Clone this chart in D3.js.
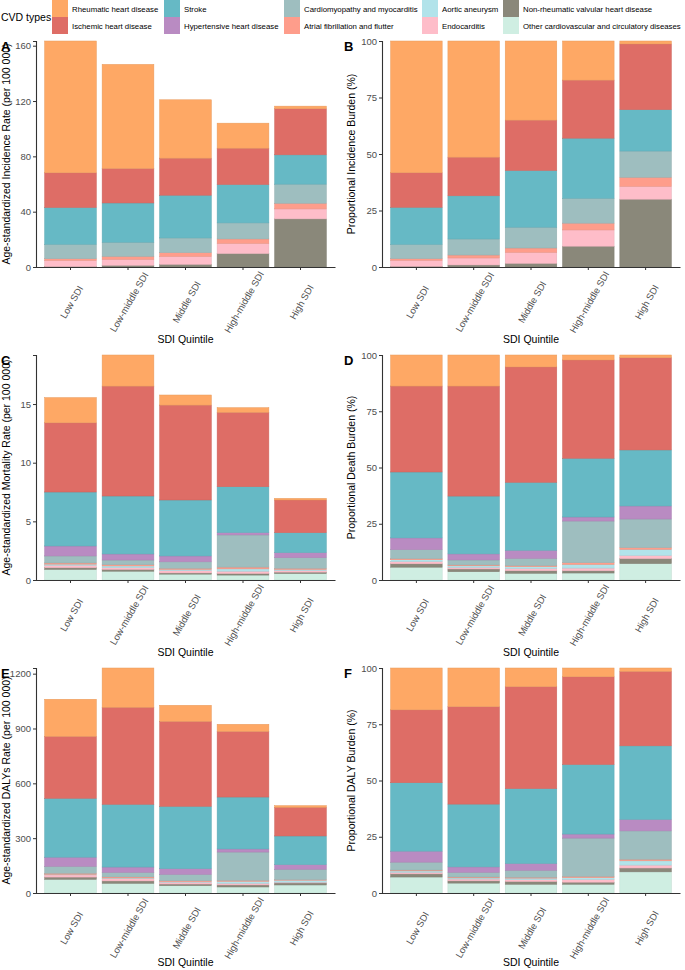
<!DOCTYPE html>
<html><head><meta charset="utf-8">
<script src="https://cdn.jsdelivr.net/npm/d3@7"></script>
<style>body{margin:0;background:#fff;font-family:"Liberation Sans",Arial,sans-serif;}</style>
</head><body><svg id="c" width="685" height="970"></svg>
<script>
const categories = ["Low SDI","Low-middle SDI","Middle SDI","High-middle SDI","High SDI"];
const cvdTypes = ["Rheumatic heart disease","Ischemic heart disease","Stroke","Hypertensive heart disease",
  "Cardiomyopathy and myocarditis","Atrial fibrillation and flutter","Aortic aneurysm","Endocarditis",
  "Non-rheumatic valvular heart disease","Other cardiovascular and circulatory diseases"];
const typeColors = ["#FEA865","#DE6D66","#66B9C5","#B98BC2","#9EBEBF","#FE9D8B","#B2E3EA","#FEBDC9","#8A887A","#CFEEE2"];

// rows follow cvdTypes order, columns follow categories
const incidenceRate = [
  [95.3,75.3,42.2,18.1,1.9],[25.1,24.9,26.8,26.3,33.3],[26.6,28.4,30.9,27.7,21.2],[0,0,0,0,0],
  [10.4,10.2,10.6,11.6,13.8],[1.2,2.1,2.7,3.2,4.1],[0,0,0,0,0],[4.5,4.4,5.8,7.4,7.2],
  [0.3,1.2,1.9,9.7,34.8],[0,0,0,0,0]];
const incidenceShare = [
  [58.3,51.4,35.0,17.3,1.3],[15.3,17.1,22.3,25.7,29.1],[16.4,19.1,25.1,26.6,18.3],[0,0,0,0,0],
  [6.3,7.1,9.2,11.0,11.6],[0.7,1.3,1.9,3.0,4.0],[0,0,0,0,0],[2.7,3.1,4.9,7.2,5.7],
  [0.3,0.9,1.6,9.2,30.0],[0,0,0,0,0]];
const deathRate = [
  [2.15,2.65,0.86,0.4,0.14],[5.9,9.37,8.09,6.34,2.79],[4.6,4.94,4.77,3.91,1.7],[0.85,0.52,0.5,0.2,0.43],
  [0.6,0.4,0.55,2.74,0.9],[0.1,0.1,0.1,0.15,0.1],[0.1,0.15,0.1,0.2,0.1],[0.2,0.15,0.2,0.2,0.13],
  [0.15,0.15,0.1,0.13,0.12],[0.9,0.75,0.5,0.42,0.55]];
const deathShare = [
  [13.8,13.8,5.3,2.2,1.2],[38.2,48.9,51.3,43.7,41.0],[29.3,25.7,30.2,26.1,24.9],[5.2,2.7,3.6,1.8,5.8],
  [4.0,2.2,3.2,18.5,12.7],[0.5,0.4,0.5,0.8,0.8],[0.8,0.7,0.8,1.6,2.7],[1.0,0.7,1.0,1.2,1.4],
  [1.5,1.2,1.1,1.0,2.2],[5.7,3.7,3.0,3.1,7.3]];
const dalyRate = [
  [203,215,88,39,9],[339,531,465,359,157],[322,343,341,284,157],[50,29,31,17,25],
  [38,25,35,155,57],[6,6,5,5,3],[3,4,3,11,11],[12,12,10,9,4],
  [12,13,9,11,11],[75,53,40,33,44]];
const dalyShare = [
  [18.6,17.2,8.3,3.9,1.5],[32.4,43.3,45.3,39.0,33.1],[30.4,27.9,33.3,30.9,32.7],[4.9,2.4,3.0,1.8,5.1],
  [3.5,2.1,3.1,17.0,12.6],[0.4,0.4,0.4,0.6,0.7],[0.6,0.5,0.7,0.8,1.9],[0.7,0.8,0.8,1.2,1.3],
  [1.4,1.0,1.2,0.9,1.7],[7.1,4.4,3.9,3.9,9.4]];

const ticksRate1 = [0,40,80,120,160];
const ticksRate2 = [0,5,10,15];
const ticksRate3 = [0,300,600,900,1200];
const ticksShare = [0,25,50,75,100];

const panels = [
  {letter:"A", data:incidenceRate, ticks:ticksRate1, title:"Age-standardized Incidence Rate (per 100 000)", share:false, col:0, row:0},
  {letter:"B", data:incidenceShare, ticks:ticksShare, title:"Proportional Incidence Burden (%)", share:true, col:1, row:0},
  {letter:"C", data:deathRate, ticks:ticksRate2, title:"Age-standardized Mortality Rate (per 100 000)", share:false, col:0, row:1},
  {letter:"D", data:deathShare, ticks:ticksShare, title:"Proportional Death Burden (%)", share:true, col:1, row:1},
  {letter:"E", data:dalyRate, ticks:ticksRate3, title:"Age-standardized DALYs Rate (per 100 000)", share:false, col:0, row:2},
  {letter:"F", data:dalyShare, ticks:ticksShare, title:"Proportional DALY Burden (%)", share:true, col:1, row:2}
];

const svg = d3.select("#c");
const rowsY = [[41,267],[355,580],[668,893]];
const colsX = [[36,335],[382,680]];
const stackKeys = cvdTypes.map((d,i)=>i).reverse(); // bottom: last type
const color = d3.scaleOrdinal().domain(cvdTypes.map((d,i)=>i)).range(typeColors);
const axisCol = "#333", tickCol = "#4D4D4D";

panels.forEach(p => {
  const [top,bottom] = rowsY[p.row];
  const [x0,x1] = colsX[p.col];
  const table = categories.map((c,ci)=>{ const o={cat:c}; cvdTypes.forEach((t,ti)=>o[ti]=p.data[ti][ci]); return o; });
  const series = d3.stack().keys(stackKeys)(table);
  const maxV = p.share ? 100 : d3.max(table, r => d3.sum(cvdTypes, (t,ti)=>r[ti]));
  const x = d3.scaleBand().domain(categories).range([x0,x1]).paddingInner(0.1).paddingOuter(0.15);
  const y = d3.scaleLinear().domain([0,maxV]).range([bottom,top]);
  const g = svg.append("g");
  g.selectAll("g.s").data(series).join("g")
    .attr("fill", d=>color(d.key)).attr("stroke", d=>d3.color(color(d.key)).darker(0.25)).attr("stroke-width",0.5)
    .selectAll("rect").data(d=>d.filter(v=>v[1]-v[0]>0)).join("rect")
    .attr("x", d=>x(d.data.cat)).attr("width", x.bandwidth())
    .attr("y", d=>y(d[1])).attr("height", d=>y(d[0])-y(d[1]));
  const ya = g.append("g").attr("transform",`translate(${x0},0)`)
    .call(d3.axisLeft(y).tickValues(p.ticks).tickSize(3).tickPadding(2).tickFormat(d3.format("d")));
  ya.select(".domain").attr("stroke",axisCol).attr("stroke-width",1.1);
  ya.selectAll(".tick line").attr("stroke",axisCol);
  ya.selectAll(".tick text").attr("fill",tickCol).attr("font-size",9.5).attr("font-family","Liberation Sans, Arial, sans-serif");
  const xa = g.append("g").attr("transform",`translate(0,${bottom})`)
    .call(d3.axisBottom(x).tickSize(3).tickSizeOuter(0));
  xa.select(".domain").attr("stroke",axisCol).attr("stroke-width",1.1);
  xa.selectAll(".tick line").attr("stroke",axisCol);
  xa.selectAll(".tick text").remove();
  categories.forEach(c=>{
    g.append("text").attr("transform",`translate(${x(c)+x.bandwidth()/2+1},${bottom+35}) rotate(-60)`)
      .attr("text-anchor","middle").attr("dominant-baseline","central")
      .attr("font-size",9.5).attr("fill",tickCol).text(c);
  });
  g.append("text").attr("x",(x0+x1)/2).attr("y",Math.min(bottom+76,966)).attr("text-anchor","middle")
    .attr("font-size",10.5).attr("fill","#000").text("SDI Quintile");
  g.append("text").attr("transform",`translate(${p.col===0?10:355},${(top+bottom)/2}) rotate(-90)`)
    .attr("text-anchor","middle").attr("font-size",10.5).attr("fill","#000").text(p.title);
  g.append("text").attr("x",p.col===0?1:344).attr("y",top+10).attr("font-size",13).attr("font-weight","bold")
    .attr("fill","#000").text(p.letter);
});

const lg = svg.append("g");
lg.append("text").attr("x",1).attr("y",21).attr("font-size",10.5).text("CVD types");
const legendCols = [52,164,284,422,503];
cvdTypes.forEach((t,i)=>{
  const cx = legendCols[Math.floor(i/2)], ry = (i%2)*17;
  lg.append("rect").attr("x",cx).attr("y",ry).attr("width",16).attr("height",17).attr("fill",typeColors[i]);
  lg.append("text").attr("x",cx+20).attr("y",ry+11.5)
    .attr("font-size",7.8).attr("fill","#000").text(t);
});
</script></body></html>
